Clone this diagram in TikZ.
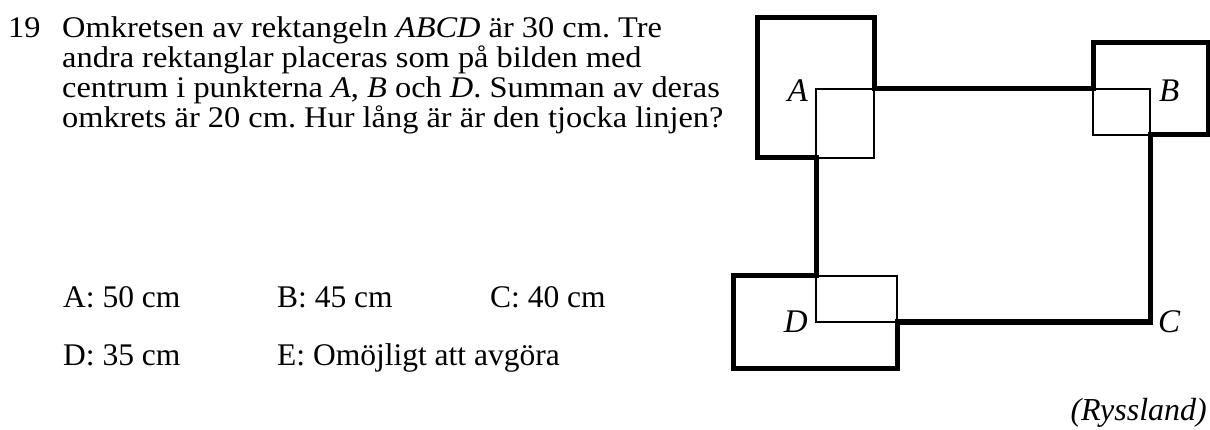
\documentclass[tikz,border=0pt]{standalone}
\usepackage{fontspec}
\setmainfont{Liberation Serif}
\newfontfamily\qfont{Liberation Serif}[FakeStretch=1.08]
\frenchspacing
\begin{document}
\begin{tikzpicture}[x=1pt,y=-1pt,
  txt/.style={anchor=base west,inner sep=0pt,font=\qfont\fontsize{30}{32}\selectfont},
  opt/.style={anchor=base west,inner sep=0pt,font=\fontsize{31.5}{34}\selectfont},
  lbl/.style={inner sep=0pt,font=\fontsize{33}{36}\selectfont\itshape},
  thin/.style={line width=1.5pt},
  thick/.style={line width=5pt,line join=miter}]
\useasboundingbox (0,0) rectangle (1210,430);
% question text
\node[txt] (num) at (8,38) {19};
\node[txt] (l1) at (62,38) {Omkretsen av rektangeln \textit{ABCD} är 30 cm. Tre};
\node[txt] (l2) at (62,68) {andra rektanglar placeras som på bilden med};
\node[txt] (l3) at (62,98) {centrum i punkterna \textit{A}, \textit{B} och \textit{D}. Summan av deras};
\node[txt] (l4) at (62,128) {omkrets är 20 cm. Hur lång är är den tjocka linjen?};
% answers
\node[opt] (oa) at (63,308) {A: 50 cm};
\node[opt] (ob) at (277,308) {B: 45 cm};
\node[opt] (oc) at (490,308) {C: 40 cm};
\node[opt] (od) at (63,365) {D: 35 cm};
\node[opt] (oe) at (277,365) {E: Omöjligt att avgöra};
\node[opt,anchor=base east,font=\fontsize{32}{34}\selectfont\itshape] (src) at (1207,420) {(Ryssland)};
% figure points
\coordinate (A) at (816,89);
\coordinate (B) at (1150,89);
\coordinate (C) at (1150,322);
\coordinate (D) at (816,322);
% thin rectangles
\draw[thin] (A) rectangle (874,158);
\draw[thin] (1093,89) rectangle (B |- 0,135);
\draw[thin] (D) rectangle (897,276);
% thick outline
\draw[thick] (874,89) -- (874,18) -- (757,18) -- (757,158) -- (816,158)
  -- (816,276) -- (733,276) -- (733,368) -- (897,368) -- (897,322)
  -- (1150,322) -- (1150,135) -- (1208,135) -- (1208,43) -- (1093,43)
  -- (1093,89) -- cycle;
% labels
\node[lbl,anchor=base east] (la) at (808,102) {A};
\node[lbl,anchor=base west] (lb) at (1159,102) {B};
\node[lbl,anchor=base west] (lc) at (1158,333) {C};
\node[lbl,anchor=base east] (ld) at (808,333) {D};
\end{tikzpicture}
\end{document}
